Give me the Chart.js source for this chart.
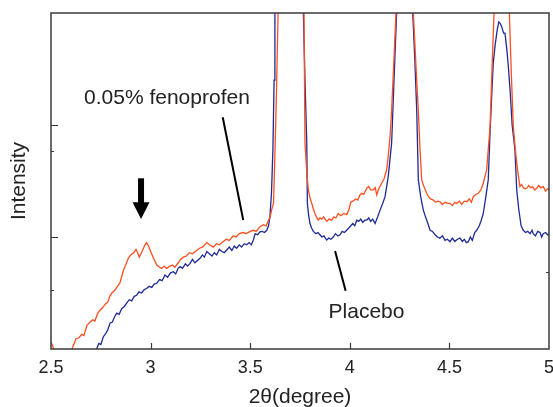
<!DOCTYPE html>
<html>
<head>
<meta charset="utf-8">
<script src="https://cdn.jsdelivr.net/npm/chart.js@4/dist/chart.umd.min.js"></script>
<style>
html,body{margin:0;padding:0;background:#fff;}
#wrap{width:553px;height:407px;}
</style>
</head>
<body>
<div id="wrap"><canvas id="c" width="553" height="407"></canvas></div>
<script>
// ---- data ----
const seriesNames = ['0.05% fenoprofen', 'Placebo'];
const fenoX = [2.500,2.510,2.520,2.600,2.610,2.625,2.640,2.655,2.665,2.680,2.695,2.710,2.720,2.735,2.748,2.760,2.772,2.785,2.795,2.806,2.818,2.830,2.846,2.855,2.865,2.875,2.888,2.900,2.915,2.927,2.935,2.943,2.952,2.962,2.972,2.980,2.990,3.000,3.010,3.020,3.031,3.045,3.056,3.068,3.080,3.097,3.110,3.122,3.139,3.150,3.164,3.180,3.195,3.210,3.231,3.245,3.260,3.282,3.295,3.315,3.330,3.345,3.365,3.380,3.395,3.415,3.430,3.445,3.465,3.480,3.500,3.516,3.530,3.548,3.566,3.580,3.590,3.600,3.610,3.617,3.625,3.632,3.640,3.650,3.660,3.700,3.750,3.770,3.775,3.785,3.792,3.800,3.809,3.817,3.825,3.835,3.842,3.850,3.860,3.868,3.876,3.885,3.895,3.909,3.920,3.930,3.942,3.955,3.970,3.984,3.995,4.005,4.015,4.030,4.040,4.051,4.060,4.070,4.085,4.095,4.105,4.118,4.128,4.135,4.145,4.160,4.172,4.185,4.193,4.202,4.210,4.222,4.232,4.250,4.270,4.300,4.319,4.333,4.344,4.352,4.361,4.372,4.386,4.395,4.405,4.419,4.430,4.441,4.453,4.465,4.478,4.490,4.503,4.515,4.527,4.537,4.550,4.562,4.575,4.587,4.600,4.610,4.620,4.632,4.645,4.658,4.670,4.680,4.687,4.695,4.704,4.714,4.724,4.740,4.760,4.785,4.801,4.811,4.821,4.830,4.838,4.846,4.854,4.862,4.872,4.880,4.888,4.898,4.908,4.918,4.928,4.938,4.948,4.958,4.971,4.983,4.993,5.005];
const fenoY = [0.06,0.02,-0.05,-0.02,0.02,0.09,0.10,0.13,0.12,0.21,0.24,0.26,0.25,0.32,0.35,0.37,0.40,0.42,0.47,0.50,0.52,0.55,0.59,0.65,0.71,0.75,0.81,0.84,0.86,0.89,0.86,0.82,0.85,0.89,0.93,0.95,0.92,0.87,0.83,0.79,0.75,0.73,0.72,0.74,0.72,0.74,0.75,0.73,0.77,0.80,0.82,0.83,0.86,0.85,0.88,0.90,0.91,0.95,0.93,0.91,0.94,0.93,0.96,0.98,0.97,1.01,1.00,1.03,1.04,1.03,1.05,1.06,1.05,1.09,1.11,1.10,1.14,1.18,1.26,1.30,1.80,2.30,3.00,4.50,5.00,5.50,4.50,3.00,1.84,1.55,1.42,1.35,1.30,1.25,1.21,1.17,1.15,1.17,1.16,1.18,1.16,1.14,1.16,1.15,1.18,1.17,1.21,1.19,1.21,1.20,1.24,1.31,1.32,1.34,1.33,1.375,1.39,1.38,1.435,1.45,1.42,1.42,1.44,1.375,1.43,1.48,1.52,1.60,1.72,1.90,2.13,2.60,3.00,4.50,5.00,4.50,3.00,2.50,2.13,1.80,1.51,1.45,1.39,1.36,1.34,1.33,1.31,1.32,1.315,1.29,1.31,1.30,1.30,1.28,1.31,1.30,1.32,1.29,1.32,1.315,1.34,1.31,1.36,1.38,1.39,1.42,1.48,1.55,1.60,1.78,1.98,2.50,3.00,4.20,4.50,4.20,3.00,2.45,1.98,1.80,1.66,1.55,1.45,1.47,1.44,1.43,1.435,1.46,1.44,1.45,1.42,1.435,1.46,1.44,1.45,1.41,1.43,1.42];
const placeboX = [2.690,2.729,2.740,2.750,2.763,2.775,2.785,2.796,2.808,2.820,2.830,2.842,2.855,2.868,2.880,2.893,2.905,2.918,2.930,2.942,2.955,2.968,2.980,2.993,3.006,3.018,3.031,3.045,3.058,3.072,3.085,3.100,3.114,3.126,3.138,3.148,3.160,3.175,3.186,3.198,3.210,3.222,3.235,3.248,3.260,3.270,3.282,3.295,3.308,3.320,3.332,3.345,3.357,3.370,3.382,3.395,3.408,3.420,3.432,3.445,3.457,3.470,3.482,3.495,3.505,3.516,3.525,3.537,3.549,3.560,3.572,3.583,3.592,3.599,3.607,3.614,3.620,3.624,3.640,3.660,3.700,3.750,3.767,3.775,3.784,3.787,3.793,3.800,3.808,3.817,3.830,3.840,3.850,3.860,3.870,3.884,3.895,3.905,3.917,3.928,3.940,3.951,3.962,3.973,3.984,3.995,4.005,4.015,4.025,4.035,4.045,4.055,4.065,4.075,4.085,4.095,4.105,4.115,4.127,4.140,4.152,4.165,4.177,4.185,4.193,4.202,4.210,4.222,4.235,4.250,4.270,4.300,4.316,4.326,4.336,4.344,4.356,4.369,4.380,4.392,4.403,4.415,4.428,4.440,4.452,4.465,4.478,4.490,4.503,4.515,4.527,4.540,4.553,4.565,4.575,4.585,4.595,4.605,4.615,4.627,4.637,4.650,4.660,4.670,4.682,4.695,4.704,4.712,4.720,4.730,4.740,4.748,4.754,4.762,4.772,4.779,4.788,4.796,4.805,4.815,4.829,4.838,4.848,4.860,4.871,4.882,4.893,4.905,4.915,4.921,4.932,4.943,4.955,4.963,4.971,4.983,4.993,5.005];
const placeboY = [-0.15,0.00,0.05,0.04,0.11,0.14,0.17,0.23,0.24,0.29,0.32,0.31,0.36,0.38,0.41,0.44,0.43,0.47,0.48,0.51,0.50,0.53,0.54,0.56,0.55,0.58,0.587,0.62,0.61,0.66,0.64,0.68,0.69,0.67,0.72,0.735,0.72,0.76,0.74,0.765,0.80,0.77,0.79,0.81,0.84,0.82,0.87,0.85,0.83,0.86,0.84,0.89,0.87,0.86,0.884,0.91,0.88,0.92,0.90,0.93,0.91,0.94,0.93,0.95,0.93,0.973,1.03,1.02,1.047,1.05,1.04,1.06,1.10,1.18,1.40,1.78,2.40,3.00,4.50,5.00,5.50,4.50,3.00,2.40,1.84,1.30,1.20,1.12,1.08,1.05,1.03,1.04,1.02,1.00,1.01,0.973,0.99,0.98,1.00,1.03,1.01,1.02,1.05,1.04,1.06,1.08,1.10,1.12,1.10,1.15,1.14,1.16,1.13,1.15,1.15,1.17,1.14,1.16,1.12,1.18,1.24,1.30,1.36,1.45,1.54,1.70,1.84,2.40,3.00,4.50,5.00,4.50,3.00,2.60,2.13,1.51,1.36,1.24,1.18,1.12,1.06,1.05,1.02,1.00,0.99,1.01,0.97,0.98,0.958,0.99,0.96,0.98,0.99,0.96,0.98,0.95,0.958,1.00,0.97,1.04,1.06,1.10,1.15,1.21,1.35,1.51,1.93,2.25,2.55,2.72,2.85,2.92,2.91,2.88,2.82,2.82,2.68,2.52,2.30,2.00,1.78,1.42,1.25,1.10,1.06,1.04,1.05,1.03,1.06,1.03,1.01,1.05,1.04,1.00,1.03,1.04,1.02,1.02];
const xTickValues = [2.5, 3, 3.5, 4, 4.5, 5];
const xTickLabels = ['2.5', '3', '3.5', '4', '4.5', '5'];
const yMajorTicks = [1, 2];
const yMinorTicks = [0.53, 1.77];
const yRightMinorTicks = [0.69];
const xAxisTitle = '2θ(degree)';
const yAxisTitle = 'Intensity';

// annotations (data coordinates)
const annFenoText = {x: 3.082, y: 2.24, text: '0.05% fenoprofen'};
const annFenoLine = [[3.362, 2.069], [3.465, 1.152]];
const annPlaceboText = {x: 4.084, y: 0.33, text: 'Placebo'};
const annPlaceboLine = [[3.926, 0.875], [3.979, 0.52]];
const annArrow = {x: 2.952, yTop: 1.524, yHead: 1.31, yTip: 1.16};

const FONT = '"Liberation Sans", Arial, Helvetica, sans-serif';
const toPts = (xs, ys) => xs.map((x, i) => ({x: x, y: ys[i]}));

const decor = {
  id: 'decor',
  afterDatasetsDraw(chart) {
    const ctx = chart.ctx;
    const a = chart.chartArea;
    const xs = chart.scales.x, ys = chart.scales.y;
    ctx.save();
    ctx.strokeStyle = '#3a3a3a';
    ctx.lineWidth = 1.5;
    ctx.strokeRect(a.left, a.top, a.right - a.left, a.bottom - a.top);
    ctx.lineWidth = 1.2;
    ctx.beginPath();
    xTickValues.forEach(v => {
      if (v <= xs.min || v >= xs.max) return;
      const p = Math.round(xs.getPixelForValue(v)) + 0.5;
      ctx.moveTo(p, a.bottom); ctx.lineTo(p, a.bottom - 6);
    });
    yMajorTicks.forEach(v => {
      const p = Math.round(ys.getPixelForValue(v)) + 0.5;
      ctx.moveTo(a.left, p); ctx.lineTo(a.left + 7, p);
    });
    yMinorTicks.forEach(v => {
      const p = Math.round(ys.getPixelForValue(v)) + 0.5;
      ctx.moveTo(a.left, p); ctx.lineTo(a.left + 3, p);
    });
    yRightMinorTicks.forEach(v => {
      const p = Math.round(ys.getPixelForValue(v)) + 0.5;
      ctx.moveTo(a.right, p); ctx.lineTo(a.right - 3, p);
    });
    ctx.stroke();
    ctx.fillStyle = '#222';
    ctx.font = '21px ' + FONT;
    ctx.textAlign = 'center';
    ctx.textBaseline = 'middle';
    ctx.fillText(annFenoText.text, xs.getPixelForValue(annFenoText.x), ys.getPixelForValue(annFenoText.y));
    ctx.fillText(annPlaceboText.text, xs.getPixelForValue(annPlaceboText.x), ys.getPixelForValue(annPlaceboText.y));
    ctx.strokeStyle = '#000';
    ctx.lineWidth = 2;
    [annFenoLine, annPlaceboLine].forEach(l => {
      ctx.beginPath();
      ctx.moveTo(xs.getPixelForValue(l[0][0]), ys.getPixelForValue(l[0][1]));
      ctx.lineTo(xs.getPixelForValue(l[1][0]), ys.getPixelForValue(l[1][1]));
      ctx.stroke();
    });
    const ax = xs.getPixelForValue(annArrow.x);
    const yT = ys.getPixelForValue(annArrow.yTop);
    const yH = ys.getPixelForValue(annArrow.yHead);
    const yP = ys.getPixelForValue(annArrow.yTip);
    ctx.fillStyle = '#000';
    ctx.fillRect(ax - 3, yT, 6, yH - yT + 1);
    ctx.beginPath();
    ctx.moveTo(ax - 8.5, yH);
    ctx.lineTo(ax + 8.5, yH);
    ctx.lineTo(ax, yP);
    ctx.closePath();
    ctx.fill();
    ctx.restore();
  }
};

new Chart(document.getElementById('c'), {
  type: 'line',
  data: {
    datasets: [
      {label: seriesNames[0], data: toPts(fenoX, fenoY), borderColor: '#ff4e1e', borderWidth: 1.3, pointRadius: 0, tension: 0, clip: 0},
      {label: seriesNames[1], data: toPts(placeboX, placeboY), borderColor: '#1e2a98', borderWidth: 1.3, pointRadius: 0, tension: 0, clip: 0}
    ]
  },
  options: {
    responsive: false,
    animation: false,
    events: [],
    layout: {padding: {top: 13, right: 4, left: 0, bottom: 0}, autoPadding: false},
    plugins: {legend: {display: false}, tooltip: {enabled: false}},
    scales: {
      x: {
        type: 'linear', min: 2.5, max: 5,
        afterBuildTicks: s => { s.ticks = xTickValues.map(v => ({value: v})); },
        afterFit: s => { s.height = 58; s.paddingLeft = 0; s.paddingRight = 0; },
        grid: {display: false, drawTicks: false},
        border: {display: false},
        ticks: {
          autoSkip: false, maxRotation: 0, padding: 8, color: '#222',
          font: {family: FONT, size: 18},
          callback: v => { const i = xTickValues.indexOf(v); return i >= 0 ? xTickLabels[i] : ''; }
        },
        title: {display: true, text: xAxisTitle, color: '#222', font: {family: FONT, size: 21, lineHeight: 1}, padding: {top: 0, bottom: -1}}
      },
      y: {
        type: 'linear', min: 0, max: 3,
        afterFit: s => { s.width = 51; s.paddingTop = 0; s.paddingBottom = 0; },
        grid: {display: false, drawTicks: false},
        border: {display: false},
        ticks: {display: false},
        title: {display: true, text: yAxisTitle, color: '#222', font: {family: FONT, size: 21, lineHeight: 1}, padding: {top: 9, bottom: 0}}
      }
    }
  },
  plugins: [decor]
});
</script>
</body>
</html>
